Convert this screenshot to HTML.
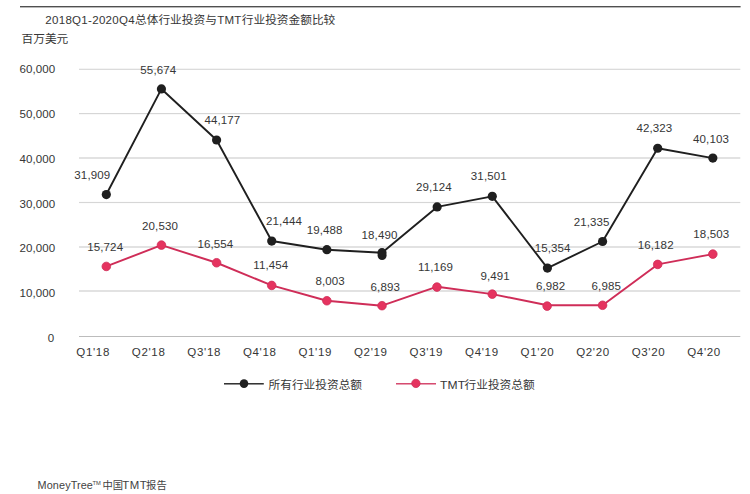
<!DOCTYPE html>
<html lang="zh">
<head>
<meta charset="utf-8">
<title>2018Q1-2020Q4 TMT</title>
<style>
html,body{margin:0;padding:0;background:#ffffff;}
body{width:750px;height:494px;overflow:hidden;font-family:"Liberation Sans",sans-serif;}
svg{display:block;}
</style>
</head>
<body>
<svg width="750" height="494" viewBox="0 0 750 494">
<rect width="750" height="494" fill="#ffffff"/>
<rect x="20" y="6" width="720.6" height="1.4" fill="#505050"/>
<rect x="79" y="336.00" width="661.3" height="1" fill="#bcbcbc"/>
<rect x="79" y="290.15" width="661.3" height="1.7" fill="#dedede"/>
<rect x="79" y="246.15" width="661.3" height="1.7" fill="#dedede"/>
<rect x="79" y="201.93" width="661.3" height="1.15" fill="#d6d6d6"/>
<rect x="79" y="157.15" width="661.3" height="1.7" fill="#dedede"/>
<rect x="79" y="113.02" width="661.3" height="1.15" fill="#d6d6d6"/>
<rect x="79" y="68.72" width="661.3" height="1.15" fill="#d6d6d6"/>
<g font-family="'Liberation Sans', sans-serif" font-size="11" fill="#363636">
<text transform="translate(54.40,342.00) scale(1.05,1)" font-size="11" letter-spacing="0.1" text-anchor="end">0</text>
<text transform="translate(55.40,297.18) scale(1.05,1)" font-size="11" letter-spacing="0.1" text-anchor="end">10,000</text>
<text transform="translate(55.40,252.36) scale(1.05,1)" font-size="11" letter-spacing="0.1" text-anchor="end">20,000</text>
<text transform="translate(55.40,207.54) scale(1.05,1)" font-size="11" letter-spacing="0.1" text-anchor="end">30,000</text>
<text transform="translate(55.40,162.72) scale(1.05,1)" font-size="11" letter-spacing="0.1" text-anchor="end">40,000</text>
<text transform="translate(55.40,117.90) scale(1.05,1)" font-size="11" letter-spacing="0.1" text-anchor="end">50,000</text>
<text transform="translate(55.40,73.08) scale(1.05,1)" font-size="11" letter-spacing="0.1" text-anchor="end">60,000</text>
<text transform="translate(93.10,355.60) scale(1.05,1)" font-size="11" letter-spacing="0.62" text-anchor="middle">Q1'18</text>
<text transform="translate(148.64,355.60) scale(1.05,1)" font-size="11" letter-spacing="0.62" text-anchor="middle">Q2'18</text>
<text transform="translate(204.18,355.60) scale(1.05,1)" font-size="11" letter-spacing="0.62" text-anchor="middle">Q3'18</text>
<text transform="translate(259.72,355.60) scale(1.05,1)" font-size="11" letter-spacing="0.62" text-anchor="middle">Q4'18</text>
<text transform="translate(315.26,355.60) scale(1.05,1)" font-size="11" letter-spacing="0.62" text-anchor="middle">Q1'19</text>
<text transform="translate(370.80,355.60) scale(1.05,1)" font-size="11" letter-spacing="0.62" text-anchor="middle">Q2'19</text>
<text transform="translate(426.34,355.60) scale(1.05,1)" font-size="11" letter-spacing="0.62" text-anchor="middle">Q3'19</text>
<text transform="translate(481.88,355.60) scale(1.05,1)" font-size="11" letter-spacing="0.62" text-anchor="middle">Q4'19</text>
<text transform="translate(537.42,355.60) scale(1.05,1)" font-size="11" letter-spacing="0.62" text-anchor="middle">Q1'20</text>
<text transform="translate(592.96,355.60) scale(1.05,1)" font-size="11" letter-spacing="0.62" text-anchor="middle">Q2'20</text>
<text transform="translate(648.50,355.60) scale(1.05,1)" font-size="11" letter-spacing="0.62" text-anchor="middle">Q3'20</text>
<text transform="translate(704.04,355.60) scale(1.05,1)" font-size="11" letter-spacing="0.62" text-anchor="middle">Q4'20</text>
</g>
<polyline points="106.30,266.44 161.44,245.09 216.58,262.76 271.72,285.42 326.86,300.75 382.00,305.68 437.14,286.68 492.28,294.14 547.42,305.29 602.56,305.27 657.70,264.41 712.84,254.10" fill="none" stroke="#cf2d58" stroke-width="1.95" stroke-linejoin="round" stroke-linecap="round"/>
<circle cx="106.30" cy="266.44" r="4.3" fill="#e5335f" stroke="#cf2d58" stroke-width="0.8"/>
<circle cx="161.44" cy="245.09" r="4.3" fill="#e5335f" stroke="#cf2d58" stroke-width="0.8"/>
<circle cx="216.58" cy="262.76" r="4.3" fill="#e5335f" stroke="#cf2d58" stroke-width="0.8"/>
<circle cx="271.72" cy="285.42" r="4.3" fill="#e5335f" stroke="#cf2d58" stroke-width="0.8"/>
<circle cx="326.86" cy="300.75" r="4.3" fill="#e5335f" stroke="#cf2d58" stroke-width="0.8"/>
<circle cx="382.00" cy="305.68" r="4.3" fill="#e5335f" stroke="#cf2d58" stroke-width="0.8"/>
<circle cx="436.94" cy="287.08" r="4.3" fill="#e5335f" stroke="#cf2d58" stroke-width="0.8"/>
<circle cx="492.28" cy="294.14" r="4.3" fill="#e5335f" stroke="#cf2d58" stroke-width="0.8"/>
<circle cx="547.12" cy="306.09" r="4.3" fill="#e5335f" stroke="#cf2d58" stroke-width="0.8"/>
<circle cx="602.56" cy="305.27" r="4.3" fill="#e5335f" stroke="#cf2d58" stroke-width="0.8"/>
<circle cx="657.70" cy="264.41" r="4.3" fill="#e5335f" stroke="#cf2d58" stroke-width="0.8"/>
<circle cx="712.84" cy="254.10" r="4.3" fill="#e5335f" stroke="#cf2d58" stroke-width="0.8"/>
<polyline points="106.30,194.53 161.44,88.93 216.58,140.02 271.72,241.03 326.86,249.72 382.00,252.70 437.14,206.90 492.28,196.34 547.42,268.09 602.56,241.51 657.70,148.26 712.84,158.12" fill="none" stroke="#1f1f1f" stroke-width="1.9" stroke-linejoin="round" stroke-linecap="round"/>
<circle cx="106.30" cy="194.53" r="4.6" fill="#1f1f1f"/>
<circle cx="161.44" cy="88.93" r="4.6" fill="#1f1f1f"/>
<circle cx="216.58" cy="140.02" r="4.6" fill="#1f1f1f"/>
<circle cx="271.72" cy="241.03" r="4.6" fill="#1f1f1f"/>
<circle cx="326.86" cy="249.72" r="4.6" fill="#1f1f1f"/>
<circle cx="382.00" cy="252.70" r="4.6" fill="#1f1f1f"/>
<circle cx="437.14" cy="206.90" r="4.6" fill="#1f1f1f"/>
<circle cx="492.28" cy="196.34" r="4.6" fill="#1f1f1f"/>
<circle cx="547.42" cy="268.09" r="4.6" fill="#1f1f1f"/>
<circle cx="602.56" cy="241.51" r="4.6" fill="#1f1f1f"/>
<circle cx="657.70" cy="148.26" r="4.6" fill="#1f1f1f"/>
<circle cx="712.84" cy="158.12" r="4.6" fill="#1f1f1f"/>
<circle cx="382.10" cy="255.6" r="4.5" fill="#1f1f1f"/>
<g font-family="'Liberation Sans', sans-serif" font-size="11" fill="#363636" text-anchor="middle">
<text transform="translate(92.30,178.70) scale(1.05,1)" font-size="11" letter-spacing="0.1" text-anchor="middle">31,909</text>
<text transform="translate(158.30,74.40) scale(1.05,1)" font-size="11" letter-spacing="0.1" text-anchor="middle">55,674</text>
<text transform="translate(222.40,124.30) scale(1.05,1)" font-size="11" letter-spacing="0.1" text-anchor="middle">44,177</text>
<text transform="translate(284.00,225.30) scale(1.05,1)" font-size="11" letter-spacing="0.1" text-anchor="middle">21,444</text>
<text transform="translate(324.60,233.80) scale(1.05,1)" font-size="11" letter-spacing="0.1" text-anchor="middle">19,488</text>
<text transform="translate(379.50,238.50) scale(1.05,1)" font-size="11" letter-spacing="0.1" text-anchor="middle">18,490</text>
<text transform="translate(433.90,191.40) scale(1.05,1)" font-size="11" letter-spacing="0.1" text-anchor="middle">29,124</text>
<text transform="translate(488.80,180.40) scale(1.05,1)" font-size="11" letter-spacing="0.1" text-anchor="middle">31,501</text>
<text transform="translate(552.60,251.50) scale(1.05,1)" font-size="11" letter-spacing="0.1" text-anchor="middle">15,354</text>
<text transform="translate(591.60,225.80) scale(1.05,1)" font-size="11" letter-spacing="0.1" text-anchor="middle">21,335</text>
<text transform="translate(654.40,132.40) scale(1.05,1)" font-size="11" letter-spacing="0.1" text-anchor="middle">42,323</text>
<text transform="translate(711.00,143.10) scale(1.05,1)" font-size="11" letter-spacing="0.1" text-anchor="middle">40,103</text>
<text transform="translate(105.20,250.90) scale(1.05,1)" font-size="11" letter-spacing="0.1" text-anchor="middle">15,724</text>
<text transform="translate(160.00,230.10) scale(1.05,1)" font-size="11" letter-spacing="0.1" text-anchor="middle">20,530</text>
<text transform="translate(215.40,247.60) scale(1.05,1)" font-size="11" letter-spacing="0.1" text-anchor="middle">16,554</text>
<text transform="translate(270.80,269.40) scale(1.05,1)" font-size="11" letter-spacing="0.1" text-anchor="middle">11,454</text>
<text transform="translate(330.20,285.00) scale(1.05,1)" font-size="11" letter-spacing="0.1" text-anchor="middle">8,003</text>
<text transform="translate(385.30,290.60) scale(1.05,1)" font-size="11" letter-spacing="0.1" text-anchor="middle">6,893</text>
<text transform="translate(435.60,271.00) scale(1.05,1)" font-size="11" letter-spacing="0.1" text-anchor="middle">11,169</text>
<text transform="translate(495.10,279.50) scale(1.05,1)" font-size="11" letter-spacing="0.1" text-anchor="middle">9,491</text>
<text transform="translate(550.60,289.60) scale(1.05,1)" font-size="11" letter-spacing="0.1" text-anchor="middle">6,982</text>
<text transform="translate(606.30,289.60) scale(1.05,1)" font-size="11" letter-spacing="0.1" text-anchor="middle">6,985</text>
<text transform="translate(655.70,248.60) scale(1.05,1)" font-size="11" letter-spacing="0.1" text-anchor="middle">16,182</text>
<text transform="translate(711.30,238.10) scale(1.05,1)" font-size="11" letter-spacing="0.1" text-anchor="middle">18,503</text>
</g>
<g font-family="'Liberation Sans', sans-serif" font-size="11" fill="#363636">
<text transform="translate(45.30,23.70) scale(1.05,1)" font-size="11" letter-spacing="0.27">2018Q1-2020Q4</text>
<text transform="translate(217.30,23.70) scale(1.05,1)" font-size="11" letter-spacing="0.1">TMT</text>
<text transform="translate(439.90,389.00) scale(1.1,1)" font-size="11" letter-spacing="0.2">TMT</text>
</g>
<g font-family="'Liberation Sans', 'Noto Sans CJK SC', sans-serif" font-size="11.7" fill="#363636">
<text x="135" y="24.2">总体行业投资与</text>
<text x="241.8" y="24.2">行业投资金额比较</text>
<text x="21.5" y="43.2">百万美元</text>
<text x="268.5" y="389.2">所有行业投资总额</text>
<text x="464.5" y="389.2">行业投资总额</text>
</g>
<rect x="224" y="383.1" width="39.8" height="1.4" fill="#1f1f1f"/>
<circle cx="244" cy="383.6" r="4.3" fill="#1f1f1f"/>
<rect x="396" y="383.15" width="40" height="1.3" fill="#cf2d58"/>
<circle cx="415.9" cy="383.4" r="4.2" fill="#e5335f" stroke="#cf2d58" stroke-width="0.8"/>
<g font-family="'Liberation Sans', sans-serif" fill="#424242">
<text transform="translate(37.60,488.60) scale(1.085,1)" font-size="10" letter-spacing="0.1">MoneyTree</text>
<text transform="translate(92.60,484.50) scale(1.15,1)" font-size="5" letter-spacing="0">TM</text>
<text transform="translate(122.30,488.60) scale(1.14,1)" font-size="10" letter-spacing="0.4">TMT</text>
</g>
<g font-family="'Liberation Sans', 'Noto Sans CJK SC', sans-serif" font-size="10.3" fill="#424242">
<text x="102.4" y="489.1">中国</text>
<text x="146.1" y="489.1">报告</text>
</g>
</svg>
</body>
</html>
